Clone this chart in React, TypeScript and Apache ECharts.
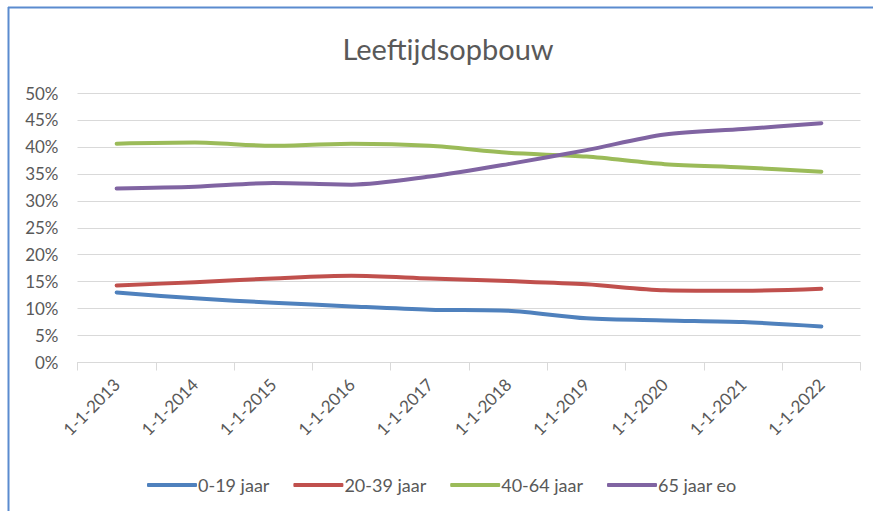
import React, { useEffect, useRef } from "react";
import * as echarts from "echarts";

const categories = ["1-1-2013", "1-1-2014", "1-1-2015", "1-1-2016", "1-1-2017", "1-1-2018", "1-1-2019", "1-1-2020", "1-1-2021", "1-1-2022"];
const age0_19 = [13.0, 11.9, 11.1, 10.4, 9.8, 9.6, 8.2, 7.8, 7.5, 6.7];
const age20_39 = [14.3, 14.9, 15.6, 16.1, 15.6, 15.1, 14.5, 13.4, 13.3, 13.7];
const age40_64 = [40.6, 40.8, 40.2, 40.6, 40.2, 38.9, 38.2, 36.8, 36.2, 35.4];
const age65plus = [32.3, 32.6, 33.3, 33.0, 34.5, 36.8, 39.4, 42.3, 43.3, 44.4];
const seriesNames = ["0-19 jaar", "20-39 jaar", "40-64 jaar", "65 jaar eo"];
const colors = ["#4F81BD", "#C0504D", "#9BBB59", "#8064A2"];

const FONT = "Lato, 'Open Sans', sans-serif";
const TEXT = "#595959";

export default function App() {
  const ref = useRef<HTMLDivElement>(null);
  useEffect(() => {
    if (!ref.current) return;
    const chart = echarts.init(ref.current, undefined, { renderer: "svg" });
    const data = [age0_19, age20_39, age40_64, age65plus];
    chart.setOption({
      animation: false,
      backgroundColor: "#ffffff",
      textStyle: { fontFamily: FONT, color: TEXT },
      title: {
        text: "Leeftijdsopbouw",
        left: 443,
        textAlign: "center",
        top: 29,
        textStyle: { fontFamily: FONT, fontSize: 29, fontWeight: "normal", color: TEXT },
      },
      graphic: [
        { type: "line", shape: { x1: 8, y1: 7.5, x2: 873, y2: 7.5 }, style: { stroke: "#5B8BCF", lineWidth: 2 } },
        { type: "line", shape: { x1: 8.5, y1: 7, x2: 8.5, y2: 511 }, style: { stroke: "#5B8BCF", lineWidth: 2 } },
      ],
      grid: { left: 77.5, right: 12.5, top: 93, bottom: 148.5, containLabel: false },
      legend: {
        left: 142,
        top: 471,
        itemWidth: 50,
        itemHeight: 4,
        itemGap: 24,
        icon: "roundRect",
        data: seriesNames,
        textStyle: { fontFamily: FONT, fontSize: 18, color: TEXT, padding: [0, 0, 0, -4] },
      },
      xAxis: {
        type: "category",
        data: categories,
        boundaryGap: true,
        axisLine: { lineStyle: { color: "#D9D9D9", width: 1 } },
        axisTick: { show: true, length: 8, lineStyle: { color: "#D9D9D9" } },
        axisLabel: { rotate: 45, margin: 19, fontFamily: FONT, fontSize: 17, color: TEXT, interval: 0 },
      },
      yAxis: {
        type: "value",
        min: 0,
        max: 50,
        interval: 5,
        axisLine: { show: false },
        axisTick: { show: false },
        splitLine: { lineStyle: { color: "#D9D9D9", width: 1 } },
        axisLabel: { formatter: "{value}%", margin: 19, fontFamily: FONT, fontSize: 17, color: TEXT },
      },
      series: seriesNames.map((name, i) => ({
        name,
        type: "line",
        data: data[i],
        smooth: 0.3,
        symbol: "none",
        lineStyle: { color: colors[i], width: 4, cap: "round", join: "round" },
        itemStyle: { color: colors[i] },
      })),
    });
    return () => chart.dispose();
  }, []);
  return <div ref={ref} style={{ position: "absolute", left: 0, top: 0, width: 873, height: 511 }} />;
}
